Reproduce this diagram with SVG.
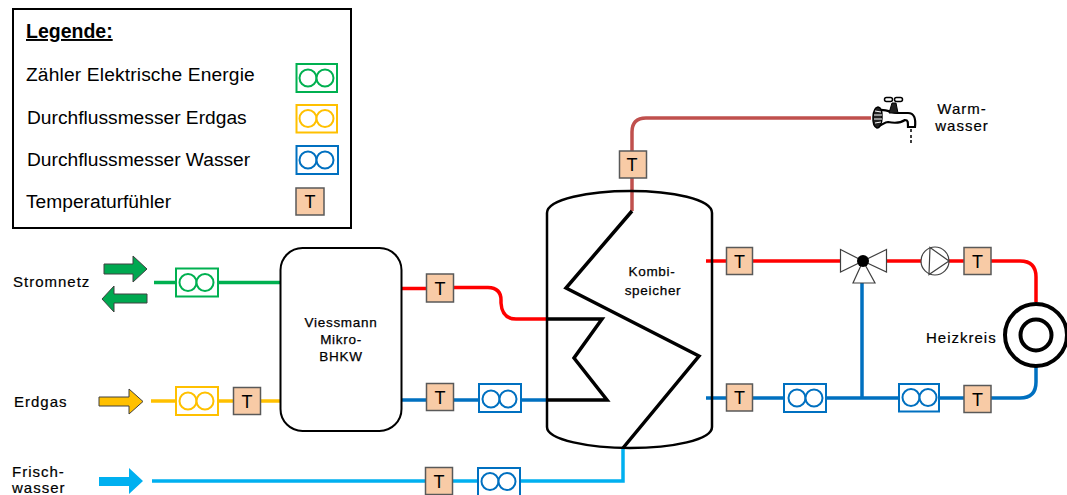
<svg xmlns="http://www.w3.org/2000/svg" width="1067" height="495" viewBox="0 0 1067 495">
<style>
text{font-family:"Liberation Sans",Arial,sans-serif;fill:#000}
.leg{font-size:19.200px}
.lab{font-size:15px;letter-spacing:1px;stroke:#000;stroke-width:.2px}
.lab2{font-size:13.500px;letter-spacing:.7px;stroke:#000;stroke-width:.25px}
.mid{text-anchor:middle}
.t rect{fill:#F8CBA6;stroke:#595959;stroke-width:1.5}
.t text{font-size:18px;text-anchor:middle}
.m rect,.m circle{fill:#fff;stroke-width:2}
.g rect,.g circle{stroke:#00B050}
.y rect,.y circle{stroke:#FFC000}
.b rect,.b circle{stroke:#0070C0}
.c{fill:none;stroke-width:3.5}
.red{stroke:#FF0000}.blu{stroke:#0070C0}.lb{stroke:#00B0F0}.gr{stroke:#00B050}.ye{stroke:#FFC000}.br{stroke:#C0504D}
.k{fill:none;stroke:#000;stroke-width:3.5;stroke-linejoin:miter}
.vt{fill:#fff;stroke:#404040;stroke-width:1.2}
.ar{stroke:#404040;stroke-width:1}
</style>
<g id="legend">
<rect x="13" y="9" width="338" height="219" fill="#fff" stroke="#000" stroke-width="2"/>
<text x="26" y="38" font-size="19.500" font-weight="bold" text-decoration="underline">Legende:</text>
<text class="leg" x="26" y="81" letter-spacing=".15">Zähler Elektrische Energie</text>
<text class="leg" x="27" y="124">Durchflussmesser Erdgas</text>
<text class="leg" x="27" y="166">Durchflussmesser Wasser</text>
<text class="leg" x="26" y="208">Temperaturfühler</text>
<g class="m g"><rect x="296.500" y="64" width="40.500" height="28"/><circle cx="308" cy="78" r="8.500"/><circle cx="325" cy="78" r="8.500"/></g>
<g class="m y"><rect x="296.500" y="105" width="40.500" height="27.500"/><circle cx="308" cy="118.500" r="8.500"/><circle cx="325" cy="118.500" r="8.500"/></g>
<g class="m b"><rect x="296.500" y="146" width="41.500" height="28"/><circle cx="308" cy="160" r="8.500"/><circle cx="325" cy="160" r="8.500"/></g>
<g class="t"><rect x="296" y="188" width="28" height="27"/><text x="310" y="208">T</text></g>
</g>
<g id="connectors">
<path class="c gr" d="M154,282.500H280"/>
<path class="c ye" d="M151,401H280"/>
<path class="c lb" d="M152,481H623V448"/>
<path class="c red" d="M402,288.500H426M454,287.500H488Q501,288 501,300V303Q502,319 516,319H547"/>
<path class="c blu" d="M402,400H426M454,400H547"/>
<path class="c br" d="M632,211V132Q632,118 646,118H871"/>
<path class="c red" d="M706,261H842M885,261H964M991,261H1020Q1036,261 1036,277V302"/>
<path class="c blu" d="M706,398H1020Q1036,398 1036,382V367M862,283V398"/>
</g>
<g id="arrow-strom-in"><path class="ar" fill="#00A850" d="M104,264H133V256L147,269L133,282V274H104Z"/></g>
<g id="arrow-strom-out"><path class="ar" fill="#00A850" d="M147,294H114V286L102,299L114,312V303H147Z"/></g>
<g id="arrow-erdgas"><path class="ar" fill="#FFC000" d="M99,397H129V389L143,401.500L129,414V406H99Z"/></g>
<g id="arrow-frischwasser"><path fill="#00B0F0" d="M99,477H129V468L143,481L129,494V486H99Z"/></g>
<g id="label-stromnetz"><text class="lab" x="13" y="287">Stromnetz</text></g>
<g id="label-erdgas"><text class="lab" x="14" y="407">Erdgas</text></g>
<g id="label-frischwasser"><text class="lab" x="12" y="477">Frisch-</text><text class="lab" x="12" y="493">wasser</text></g>
<g id="meter-strom" class="m g"><rect x="176" y="268.500" width="42" height="28"/><circle cx="188" cy="282.500" r="8.500"/><circle cx="205" cy="282.500" r="8.500"/></g>
<g id="meter-erdgas" class="m y"><rect x="176" y="387" width="42" height="28"/><circle cx="188" cy="401" r="8.500"/><circle cx="205" cy="401" r="8.500"/></g>
<g id="temp-erdgas" class="t"><rect x="233.500" y="387.500" width="27" height="27"/><text x="247" y="408">T</text></g>
<g id="bhkw">
<rect x="280.500" y="248" width="121" height="183" rx="22" fill="#fff" stroke="#000" stroke-width="2"/>
<text class="lab2 mid" x="341" y="327">Viessmann</text><text class="lab2 mid" x="341" y="344">Mikro-</text><text class="lab2 mid" x="341" y="361">BHKW</text>
</g>
<g id="temp-bhkw-vl" class="t"><rect x="426.500" y="274" width="27" height="28"/><text x="440" y="295">T</text></g>
<g id="temp-bhkw-rl" class="t"><rect x="426.500" y="383.500" width="27" height="27"/><text x="440" y="404">T</text></g>
<g id="meter-bhkw" class="m b"><rect x="479" y="384" width="42" height="28"/><circle cx="491" cy="399" r="8.500"/><circle cx="508" cy="399" r="8.500"/></g>
<g id="temp-frisch" class="t"><rect x="425.500" y="467.500" width="27" height="27"/><text x="439" y="488">T</text></g>
<g id="meter-frisch" class="m b"><rect x="478" y="468" width="42" height="28"/><circle cx="490" cy="481.500" r="8.500"/><circle cx="507" cy="481.500" r="8.500"/></g>
<g id="kombispeicher">
<path fill="none" stroke="#000" stroke-width="2.500" d="M547,213C547,199 590,191 630,191C672,191 712,199 712,213V427C712,440 672,448 630,448C590,448 547,440 547,427Z"/>
<path class="k" d="M632,211L566,288L699,356L623,448"/>
<path class="k" d="M547,319H602L574,358L607,400H547"/>
<text class="lab2 mid" x="652" y="276" style="font-size:13.500px">Kombi-</text><text class="lab2 mid" x="653" y="295" style="font-size:13.500px">speicher</text>
</g>
<g id="temp-warm" class="t"><rect x="619.500" y="151" width="27" height="27"/><text x="632" y="171">T</text></g>
<g id="zapfhahn">
<path d="M879,110C887,109 892,113 897,113H908C914,113 916,118 915,127H908C908,122 908,120 905,120C899,124 893,123 888,122C885,122 882,125 879,126Z" fill="#fff" stroke="#000" stroke-width="2.200"/>
<path d="M878,107C872,108 871,126 877,128C883,128 884,108 878,107Z" fill="#222" stroke="#000" stroke-width="1.500"/>
<path d="M875,111L881,112M874,115H882M874,119H882M875,123L881,122" stroke="#fff" stroke-width="1" fill="none"/>
<path d="M889,113L892,103H896L898,113Z" fill="#222" stroke="#000" stroke-width="1"/>
<rect x="884.500" y="97.500" width="8" height="4" rx="2" fill="#fff" stroke="#000" stroke-width="1.500"/>
<rect x="894.500" y="97.500" width="8" height="4" rx="2" fill="#fff" stroke="#000" stroke-width="1.500"/>
<path d="M911,129V132M911,135V138M911,140V143" stroke="#000" stroke-width="1.500"/>
</g>
<g id="label-warmwasser"><text class="lab mid" x="962" y="114">Warm-</text><text class="lab mid" x="962" y="131">wasser</text></g>
<g id="temp-heiz-vl-1" class="t"><rect x="726.500" y="247.500" width="26" height="27"/><text x="739.500" y="268">T</text></g>
<g id="temp-heiz-rl-1" class="t"><rect x="726.500" y="384" width="26" height="27"/><text x="739.500" y="404">T</text></g>
<g id="meter-heiz-1" class="m b"><rect x="784" y="384" width="42" height="28"/><circle cx="797" cy="398" r="8.500"/><circle cx="814" cy="398" r="8.500"/></g>
<g id="mischventil">
<path class="vt" d="M840.500,249.500L863,261L840.500,272Z"/>
<path class="vt" d="M886.500,249.500L863,261L886.500,272Z"/>
<path class="vt" d="M863,261L875,283H853Z"/>
<circle cx="863" cy="261" r="6" fill="#000"/>
</g>
<g id="pumpe">
<circle cx="935" cy="261" r="14" fill="#fff" stroke="#404040" stroke-width="1.200"/>
<path d="M930,247.500L949,261L929,274.500Z" fill="#fff" stroke="#404040" stroke-width="1.200"/>
</g>
<g id="temp-heiz-vl-2" class="t"><rect x="964" y="247.500" width="27" height="27"/><text x="977.500" y="268">T</text></g>
<g id="meter-heiz-2" class="m b"><rect x="899" y="384" width="40" height="27.500"/><circle cx="911" cy="397.500" r="8.500"/><circle cx="928" cy="397.500" r="8.500"/></g>
<g id="temp-heiz-rl-2" class="t"><rect x="964" y="385.500" width="27" height="27"/><text x="977.500" y="406">T</text></g>
<g id="heizkreis">
<circle cx="1036" cy="335" r="31" fill="#fff" stroke="#000" stroke-width="4"/>
<circle cx="1036" cy="335" r="15.500" fill="#fff" stroke="#000" stroke-width="4"/>
<text class="lab" x="926" y="343">Heizkreis</text>
</g>
</svg>
